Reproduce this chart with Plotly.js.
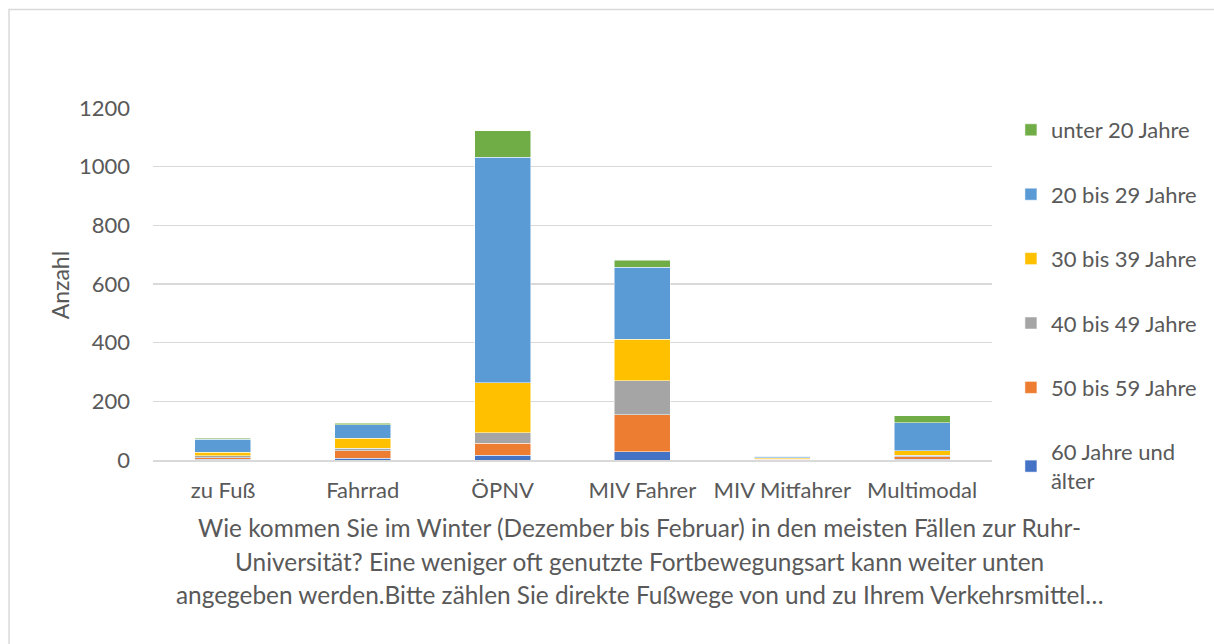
<!DOCTYPE html>
<html>
<head>
<meta charset="utf-8">
<script src="https://cdn.plot.ly/plotly-3.0.1.min.js"></script>
<style>html,body{margin:0;padding:0;background:#fff;}#chart{width:1214px;height:644px;}</style>
</head>
<body>
<div id="chart"></div>
<script>
const categories = ["zu Fuß", "Fahrrad", "ÖPNV", "MIV Fahrer", "MIV Mitfahrer", "Multimodal"];
const seriesNames = ["60 Jahre und<br>älter", "50 bis 59 Jahre", "40 bis 49 Jahre", "30 bis 39 Jahre", "20 bis 29 Jahre", "unter 20 Jahre"];
const v60plus = [2, 6, 16, 28, 1, 3];
const v50to59 = [5, 26, 41, 126, 2, 8];
const v40to49 = [7, 8, 36, 117, 1, 5];
const v30to39 = [13, 35, 171, 141, 3, 15];
const v20to29 = [43, 45, 768, 245, 5, 96];
const vUnder20 = [5, 6, 91, 24, 1, 24];
const seriesColors = ["#4472C4", "#ED7D31", "#A5A5A5", "#FFC000", "#5B9BD5", "#70AD47"];
const yTitle = "Anzahl";
const xTitleLines = [
  "Wie kommen Sie im Winter (Dezember bis Februar) in den meisten Fällen zur Ruhr-",
  "Universität? Eine weniger oft genutzte Fortbewegungsart kann weiter unten",
  "angegeben werden.Bitte zählen Sie direkte Fußwege von und zu Ihrem Verkehrsmittel…"
];

const seriesValues = [v60plus, v50to59, v40to49, v30to39, v20to29, vUnder20];
const FONT = "Lato, 'Open Sans', sans-serif";
const TXT = "#595959";
const N = seriesValues.length;

const traces = seriesValues.map((vals, i) => ({
  type: "bar",
  name: seriesNames[i],
  x: categories,
  y: vals,
  legendgroup: "g" + (N - i),
  legendrank: N - i,
  marker: {color: seriesColors[i], line: {color: "#ffffff", width: 0.5}},
  hoverinfo: "x+y+name"
}));

const L = 153, R = 219, T = 108, B = 184;
const W = 1214 - L - R, H = 644 - T - B;
const px = x => (x - L) / W;
const py = y => (644 - B - y) / H;

const annotations = xTitleLines.map((t, i) => ({
  text: t, xref: "paper", yref: "paper",
  x: px(641), y: py([527, 561, 594][i]),
  xanchor: "center", yanchor: "middle", showarrow: false,
  font: {family: FONT, size: 24.4, color: TXT}
}));
annotations.push({
  text: yTitle, xref: "paper", yref: "paper",
  x: px(60), y: py(285), textangle: -90,
  xanchor: "center", yanchor: "middle", showarrow: false,
  font: {family: FONT, size: 23, color: TXT}
});

const layout = {
  width: 1214, height: 644,
  margin: {l: L, r: R, t: T, b: B, pad: 0},
  paper_bgcolor: "#ffffff", plot_bgcolor: "#ffffff",
  barmode: "stack", bargap: 0.6,
  font: {family: FONT, size: 22, color: TXT},
  xaxis: {
    type: "category", showgrid: false, showline: true, linecolor: "#d9d9d9", linewidth: 1.5,
    ticks: "", ticklabelstandoff: 10,
    tickfont: {family: FONT, size: 22, color: TXT}
  },
  yaxis: {
    range: [0, 1200], tickvals: [0, 200, 400, 600, 800, 1000, 1200],
    showgrid: true, gridcolor: "#d9d9d9", gridwidth: 1.5,
    zeroline: false, showline: false, ticks: "", ticklabelstandoff: 22,
    tickfont: {family: FONT, size: 22, color: TXT}
  },
  showlegend: true,
  legend: {
    x: px(1014), y: py(109), xanchor: "left", yanchor: "top",
    traceorder: "grouped", tracegroupgap: 32.8, maxheight: 600,
    font: {family: FONT, size: 22, color: TXT},
    itemwidth: 30, bgcolor: "rgba(0,0,0,0)"
  },
  annotations: annotations,
  shapes: [{
    type: "rect", xref: "paper", yref: "paper",
    x0: px(8.5), x1: px(1240), y0: py(670), y1: py(9.5),
    line: {color: "#d9d9d9", width: 1.5}, fillcolor: "rgba(0,0,0,0)", layer: "below"
  }]
};

Plotly.newPlot("chart", traces, layout, {displayModeBar: false, staticPlot: true});
</script>
</body>
</html>
